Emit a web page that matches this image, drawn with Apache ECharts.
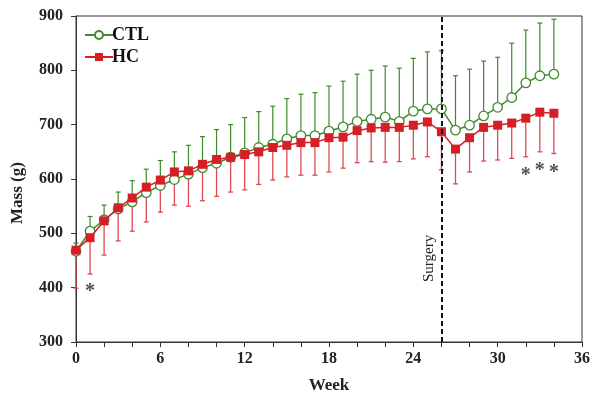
<!DOCTYPE html>
<html>
<head>
<meta charset="utf-8">
<script src="https://cdn.jsdelivr.net/npm/echarts@6/dist/echarts.min.js"></script>
<style>html,body{margin:0;padding:0;background:#fff;}#c{width:602px;height:403px;}</style>
</head>
<body>
<div id="c"></div>
<script>
const weeks = [0,1,2,3,4,5,6,7,8,9,10,11,12,13,14,15,16,17,18,19,20,21,22,23,24,25,26,27,28,29,30,31,32,33,34];
const ctlMean = [467,504,525,545,558,575,588,599,609,621,629,640,648,658,664,674,680,680,688,696,706,710,714,706,725,729,729,690,699,716,732,750,777,790,793];
const ctlUpper = [482,531,552,576,597,618,634,650,662,678,691,700,713,724,734,748,756,759,771,780,793,800,808,804,822,834,836,790,802,817,824,850,874,887,894];
const hcMean = [469,492,523,547,565,585,598,613,615,627,636,640,645,650,658,662,667,667,676,677,689,694,695,695,699,705,687,655,676,695,699,703,712,723,721];
const hcLower = [399,425,460,486,504,521,539,552,550,560,568,576,580,590,598,604,607,607,613,620,630,632,631,632,637,641,617,591,613,633,635,638,641,650,647];
const starWeeks = [1,32,33,34];
const starValues = [400,613,622,618];
const surgeryWeek = 26;
const xTicks = [0,6,12,18,24,30,36];
const yTicks = [300,400,500,600,700,800,900];

const GREEN = '#3f8a2c';
const RED = '#d41f26';
const RED_BAR = '#dc4a52';
const FONT = 'Liberation Serif';

function errBar(color, width) {
  return function (params, api) {
    const x = api.value(0);
    const p0 = api.coord([x, api.value(1)]);
    const p1 = api.coord([x, api.value(2)]);
    const cw = 2.5;
    return {
      type: 'group',
      children: [
        {type: 'line', shape: {x1: p0[0], y1: p0[1], x2: p1[0], y2: p1[1]}, style: {stroke: color, lineWidth: width}},
        {type: 'line', shape: {x1: p1[0] - cw, y1: p1[1], x2: p1[0] + cw, y2: p1[1]}, style: {stroke: color, lineWidth: width}}
      ]
    };
  };
}

const chart = echarts.init(document.getElementById('c'), null, {renderer: 'canvas'});
chart.setOption({
  animation: false,
  backgroundColor: '#fff',
  grid: {left: 76, right: 20, top: 16, bottom: 61, show: true, borderColor: '#333', borderWidth: 1},
  legend: {
    orient: 'vertical', left: 79, top: 21, itemGap: 4, itemWidth: 28, itemHeight: 10,
    data: ['CTL', 'HC'],
    textStyle: {fontFamily: FONT, fontWeight: 'bold', fontSize: 18, color: '#111', padding: [0, 0, 0, -6]}
  },
  xAxis: {
    type: 'value', min: xTicks[0], max: xTicks[xTicks.length - 1], interval: 6,
    name: 'Week', nameLocation: 'middle', nameGap: 35,
    nameTextStyle: {fontFamily: FONT, fontWeight: 'bold', fontSize: 17, color: '#222'},
    axisLine: {show: true, onZero: false, lineStyle: {color: '#333', width: 1}},
    axisTick: {show: true, inside: false, length: 5, lineStyle: {color: '#333'}},
    minorTick: {show: true, splitNumber: 3, length: 5, lineStyle: {color: '#333'}},
    splitLine: {show: false},
    axisLabel: {fontFamily: FONT, fontWeight: 'bold', fontSize: 16, color: '#222', margin: 9}
  },
  yAxis: {
    type: 'value', min: yTicks[0], max: yTicks[yTicks.length - 1], interval: 100,
    name: 'Mass (g)', nameLocation: 'middle', nameGap: 50,
    nameTextStyle: {fontFamily: FONT, fontWeight: 'bold', fontSize: 17, color: '#222', padding: [0, 0, 0, -28]},
    axisLine: {show: true, lineStyle: {color: '#333', width: 1}},
    axisTick: {show: true, inside: false, length: 5, lineStyle: {color: '#333'}},
    splitLine: {show: false},
    axisLabel: {fontFamily: FONT, fontWeight: 'bold', fontSize: 16, color: '#222', margin: 13}
  },
  series: [
    {
      name: 'CTL-err', type: 'custom', silent: true, z: 2,
      data: weeks.map((w, i) => [w, ctlMean[i], ctlUpper[i]]),
      renderItem: errBar(GREEN, 1.2), encode: {x: 0, y: [1, 2]}
    },
    {
      name: 'HC-err', type: 'custom', silent: true, z: 2,
      data: weeks.map((w, i) => [w, hcMean[i], hcLower[i]]),
      renderItem: errBar(RED_BAR, 1.3), encode: {x: 0, y: [1, 2]}
    },
    {
      name: 'CTL', type: 'line', z: 3,
      data: weeks.map((w, i) => [w, ctlMean[i]]),
      symbol: 'circle', symbolSize: 9.5,
      itemStyle: {color: '#fff', borderColor: GREEN, borderWidth: 1.3},
      lineStyle: {color: GREEN, width: 1.5},
      markLine: {
        silent: true, symbol: 'none',
        lineStyle: {color: '#111', type: [5, 3], width: 2},
        label: {show: true, formatter: 'Surgery', position: 'insideStartTop', distance: [60, 5],
                fontFamily: FONT, fontSize: 15, color: '#222'},
        data: [[{coord: [surgeryWeek, yTicks[0]]}, {coord: [surgeryWeek, yTicks[yTicks.length - 1]]}]]
      }
    },
    {
      name: 'HC', type: 'line', z: 4,
      data: weeks.map((w, i) => [w, hcMean[i]]),
      symbol: 'rect', symbolSize: 9,
      itemStyle: {color: RED},
      lineStyle: {color: RED, width: 1.5}
    },
    {
      name: 'stars', type: 'scatter', z: 5, symbolSize: 0,
      data: starWeeks.map((w, i) => [w, starValues[i]]),
      label: {show: true, formatter: '*', position: 'inside', offset: [0, 4],
              fontFamily: FONT, fontWeight: 'bold', fontSize: 20, color: '#222'}
    }
  ]
});
</script>
</body>
</html>
